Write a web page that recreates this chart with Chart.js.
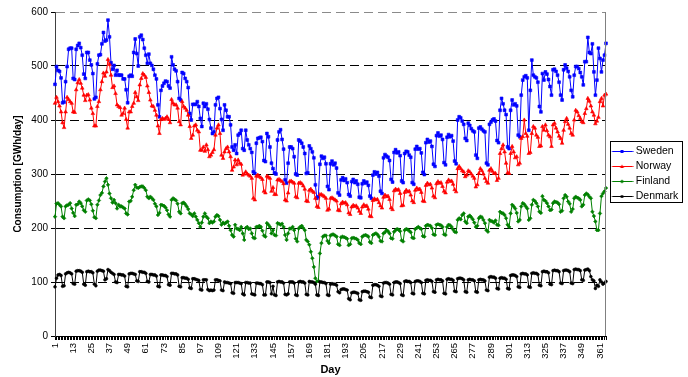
<!DOCTYPE html>
<html>
<head>
<meta charset="utf-8">
<script src="https://cdn.jsdelivr.net/npm/chart.js@4.4.0/dist/chart.umd.min.js"></script>
<style>html,body{margin:0;padding:0;background:#fff;}canvas{display:block;}</style>
</head>
<body>
<canvas id="c" width="688" height="377"></canvas>
<script>
// Daily electricity consumption, GWh/day (days 1..365)
const sweden = [
466,499,492,490,478,432,433,
471,499,531,533,533,477,475,
531,538,542,534,520,485,477,
525,525,511,502,486,439,442,
504,520,521,541,562,546,548,
585,554,506,494,501,483,492,
483,483,483,476,476,456,432,
481,483,481,525,550,523,500,
554,557,549,533,520,505,522,
505,501,494,483,476,428,406,
455,463,468,472,471,463,459,
517,502,494,491,471,440,437,
488,486,477,471,460,412,400,
429,429,429,434,425,403,388,
431,425,430,420,401,385,375,
378,428,440,442,421,401,381,
428,418,406,406,391,350,344,
354,338,372,375,381,347,344,
381,363,354,347,340,304,301,
357,366,367,368,360,325,323,
375,369,350,320,310,302,300,
363,378,382,364,346,289,283,
320,350,350,347,332,300,298,
363,361,357,350,338,301,302,
352,347,341,330,280,255,258,
318,333,329,331,319,277,271,
319,324,317,320,311,265,261,
289,293,288,291,284,262,259,
286,290,284,287,281,257,256,
282,287,283,285,279,259,255,
298,304,300,303,296,268,264,
330,336,333,331,325,290,285,
340,345,339,341,334,287,284,
338,342,341,335,331,284,281,
346,351,346,347,339,303,299,
358,364,359,361,351,318,314,
371,376,370,372,364,321,317,
368,373,369,371,361,324,319,
400,406,404,398,392,366,362,
394,390,384,380,378,335,329,
385,387,383,380,378,320,317,
392,396,400,402,398,362,358,
418,440,430,418,410,350,347,
418,437,428,430,426,372,369,
446,474,480,482,478,381,455,
511,483,480,478,470,425,415,
486,474,489,485,475,462,446,
493,494,490,483,470,446,437,
493,502,496,490,480,455,443,
483,499,499,495,488,480,465,
508,508,553,525,523,541,489,
446,474,533,514,489,511,520,
542];

const norway = [
431,442,434,426,415,395,386,
415,442,438,434,431,415,414,
456,469,475,468,459,446,436,
446,447,437,422,412,389,389,
425,434,456,471,487,481,489,
512,503,483,460,463,449,428,
425,423,409,412,422,401,385,
415,415,425,431,451,443,436,
465,477,486,483,479,463,451,
437,426,425,418,409,389,375,
401,403,401,403,406,401,395,
438,431,428,428,422,397,391,
434,425,422,418,409,388,366,
372,389,391,381,378,344,344,
350,342,354,345,332,335,340,
345,372,385,391,375,335,329,
341,347,350,341,332,307,313,
326,317,326,320,318,298,300,
304,300,298,296,292,255,252,
296,298,295,293,290,268,265,
296,294,292,268,275,262,262,
289,290,288,286,282,252,250,
265,286,287,285,283,258,256,
283,284,282,278,272,250,249,
270,272,268,266,255,240,238,
262,262,260,258,255,233,235,
255,256,254,252,250,233,232,
245,248,246,247,243,228,225,
239,242,240,241,237,231,227,
239,243,240,241,235,222,221,
251,254,252,253,247,241,237,
257,261,258,259,253,237,234,
269,272,270,271,264,241,242,
266,270,267,268,261,250,247,
270,274,271,272,266,250,249,
279,283,280,281,274,259,256,
282,286,283,284,277,268,265,
285,289,286,287,281,271,267,
310,314,310,306,304,295,298,
306,304,300,296,292,276,280,
301,310,306,300,292,286,283,
307,310,305,301,301,288,292,
338,347,354,341,320,302,301,
338,351,341,330,332,317,320,
366,369,400,375,370,338,340,
375,388,385,372,368,351,352,
388,381,391,380,372,369,351,
391,394,385,378,370,366,357,
381,397,403,392,385,375,372,
400,418,415,408,403,397,395,
412,421,440,435,426,415,409,
393,398,405,434,440,426,446,
448];

const finland = [
221,245,246,243,240,221,218,
240,242,243,246,236,228,222,
243,244,249,246,240,233,230,
251,253,251,244,232,220,218,
243,251,261,265,277,286,292,
280,264,255,247,252,246,236,
243,240,240,238,236,227,225,
249,250,258,270,280,275,274,
276,277,277,274,270,258,255,
258,255,252,245,240,224,228,
243,242,241,238,233,225,221,
252,255,253,251,245,230,227,
246,247,244,240,235,227,225,
222,227,221,215,209,202,210,
221,227,221,218,209,212,210,
212,221,224,222,215,206,210,
208,210,212,204,196,187,184,
206,199,198,196,202,190,178,
200,202,198,199,190,182,181,
202,202,204,202,195,186,184,
209,206,202,190,196,187,186,
209,208,206,208,202,187,178,
190,199,199,202,196,180,175,
199,202,204,200,196,178,175,
169,156,144,128,107,101,102,
153,172,184,186,186,176,172,
186,188,188,186,184,170,168,
183,184,183,182,180,168,170,
181,182,181,180,178,172,170,
184,186,187,186,184,174,172,
187,189,190,188,184,176,175,
190,192,196,194,190,181,180,
193,196,198,197,194,177,175,
196,198,197,195,192,182,181,
198,200,202,200,198,185,184,
204,206,205,204,200,188,187,
206,207,206,205,202,188,187,
202,206,205,202,197,193,192,
215,218,216,224,227,212,209,
221,223,220,216,210,202,204,
218,221,220,215,209,196,193,
215,213,212,210,214,206,205,
230,228,227,224,218,206,202,
227,243,240,236,228,212,215,
240,246,244,240,236,215,218,
243,252,250,246,240,230,228,
259,252,250,246,240,233,234,
246,249,248,247,244,230,232,
255,261,258,249,245,230,235,
255,258,256,255,252,240,243,
261,264,262,258,255,230,222,
212,196,196,227,259,264,268,
274];

const denmark = [
91,107,113,114,112,92,93,
115,117,118,117,115,97,96,
120,121,121,120,118,96,94,
119,120,119,119,117,96,93,
120,122,122,121,120,104,106,
123,121,118,116,114,100,99,
114,114,113,113,111,92,91,
115,116,116,115,114,102,101,
119,119,118,118,116,101,100,
114,114,113,113,111,92,91,
113,113,112,112,110,95,94,
116,116,115,115,113,92,91,
108,108,107,107,105,89,88,
106,106,105,104,103,86,85,
104,104,104,86,84,85,84,
85,104,104,103,102,85,84,
100,99,99,98,97,80,79,
99,99,99,98,97,78,76,
99,99,98,98,78,77,76,
98,98,97,97,95,76,76,
100,100,99,78,92,76,75,
100,101,100,100,98,77,76,
78,100,100,100,98,76,75,
100,101,100,100,98,77,76,
101,100,100,99,96,76,75,
100,100,99,99,97,76,75,
96,97,96,96,94,82,80,
86,87,87,86,85,69,67,
80,81,81,80,79,67,66,
82,83,83,82,81,72,71,
94,95,95,94,92,74,73,
98,99,99,98,96,77,76,
99,100,100,99,97,76,75,
101,102,101,101,99,79,78,
101,102,102,101,99,79,78,
103,104,103,103,101,82,81,
104,105,104,104,102,79,78,
105,106,105,105,103,83,82,
106,107,107,106,104,82,81,
104,105,104,104,102,82,81,
104,105,104,104,102,85,84,
109,110,109,109,107,88,87,
107,108,107,107,105,88,87,
112,113,113,112,110,91,90,
115,116,115,115,113,91,90,
116,117,116,116,114,94,93,
119,120,119,119,117,96,95,
121,122,121,121,119,98,97,
121,122,122,121,119,98,97,
123,124,123,123,121,104,103,
122,123,124,121,110,104,102,
88,94,92,104,100,96,98,
101];

const seriesNames = ['Sweden', 'Norway', 'Finland', 'Denmark'];
const seriesColors = ['#0000ff', '#ff0000', '#008000', '#000000'];
const seriesMarkers = ['rect', 'triangle', 'rectRot', 'circle'];
const yTickValues = [0, 100, 200, 300, 400, 500, 600];
const labelEvery = 12;

// category labels: day numbers
const days = sweden.map((_, i) => String(i + 1));

const FONT = "'Liberation Sans', Arial, sans-serif";

function legendIcon(color, marker) {
  const c = document.createElement('canvas');
  c.width = 26; c.height = 9;
  const g = c.getContext('2d');
  g.strokeStyle = color; g.fillStyle = color; g.lineWidth = 1;
  g.beginPath(); g.moveTo(4.5, 4.5); g.lineTo(25.5, 4.5); g.stroke();
  const cx = 14.5, cy = 4.5;
  g.beginPath();
  if (marker === 'rect') { g.rect(cx - 1.5, cy - 1.5, 3, 3); }
  else if (marker === 'triangle') { g.moveTo(cx, cy - 2); g.lineTo(cx + 2, cy + 1.5); g.lineTo(cx - 2, cy + 1.5); g.closePath(); }
  else if (marker === 'rectRot') { g.moveTo(cx, cy - 2); g.lineTo(cx + 2, cy); g.lineTo(cx, cy + 2); g.lineTo(cx - 2, cy); g.closePath(); }
  else { g.arc(cx, cy, 1.6, 0, Math.PI * 2); }
  g.fill();
  return c;
}
const icons = seriesColors.map((c, i) => legendIcon(c, seriesMarkers[i]));

const seriesData = [sweden, norway, finland, denmark];
const radii = [2, 2.1, 1.8, 1.4];
const datasets = seriesData.map((d, i) => ({
  label: seriesNames[i],
  data: d,
  borderColor: seriesColors[i],
  backgroundColor: seriesColors[i],
  pointBackgroundColor: seriesColors[i],
  pointBorderColor: seriesColors[i],
  pointStyle: seriesMarkers[i],
  pointRadius: radii[i],
  pointBorderWidth: 0.6,
  borderWidth: 1,
  tension: 0,
  fill: false,
  order: 4 - i
}));

const framePlugin = {
  id: 'frame',
  afterDraw(chart) {
    const {ctx, chartArea: a, legend} = chart;
    ctx.save();
    ctx.strokeStyle = '#808080';
    ctx.lineWidth = 1;
    ctx.beginPath();
    const xr = Math.round(a.right) - 0.5;
    ctx.moveTo(xr, Math.round(a.top)); ctx.lineTo(xr, Math.round(a.bottom));
    ctx.stroke();
    const hb = legend.legendHitBoxes;
    if (hb && hb.length) {
      const top = Math.round(hb[0].top - 5) + 0.5;
      const bottom = Math.round(hb[hb.length - 1].top + hb[hb.length - 1].height + 0.5) + 0.5;
      const left = Math.round(legend.left + 3.7) + 0.5;
      const right = Math.round(legend.right - 6) + 0.5;
      ctx.strokeStyle = '#000';
      ctx.strokeRect(left, top, right - left, bottom - top);
    }
    ctx.restore();
  }
};

new Chart(document.getElementById('c').getContext('2d'), {
  type: 'line',
  data: { labels: days, datasets },
  options: {
    responsive: false,
    animation: false,
    devicePixelRatio: 1,
    layout: { padding: { top: 12, left: 0, right: 0, bottom: 0 } },
    plugins: {
      tooltip: { enabled: false },
      legend: {
        position: 'right',
        fullSize: false,
        maxWidth: 82,
        labels: {
          usePointStyle: true,
          pointStyleWidth: 20,
          padding: 4.5,
          color: '#000',
          font: { family: FONT, size: 10.5 },
          generateLabels(chart) {
            const items = Chart.defaults.plugins.legend.labels.generateLabels(chart);
            items.sort((a, b) => a.datasetIndex - b.datasetIndex);
            items.forEach(it => { it.pointStyle = icons[it.datasetIndex]; it.fontColor = '#000'; });
            return items;
          }
        }
      }
    },
    scales: {
      x: {
        type: 'category',
        offset: false,
        grid: { display: true, drawOnChartArea: false, drawTicks: true, tickLength: 4, tickColor: '#000', color: '#000' },
        border: { display: true, color: '#000', width: 1 },
        ticks: {
          autoSkip: false, maxRotation: 90, minRotation: 90, padding: 3,
          color: '#000', font: { family: FONT, size: 9.5 },
          callback: (v, i) => (i % labelEvery === 0 ? days[i] : '')
        },
        title: { display: true, text: 'Day', color: '#000', font: { family: FONT, size: 11, weight: 'bold' }, padding: { top: 0, bottom: 0 } },
        afterFit(s) { s.height = 41; }
      },
      y: {
        min: 0, max: 600,
        afterBuildTicks(s) { s.ticks = yTickValues.map(v => ({ value: v })); },
        ticks: { padding: 3, color: '#000', font: { family: FONT, size: 10 } },
        grid: {
          color: c => (c.tick && c.tick.value === 600 ? '#8a8a8a' : '#000'),
          lineWidth: 1, drawTicks: true, tickLength: 4, tickColor: '#000'
        },
        border: { display: true, color: '#404040', width: 1, dash: [9, 5] },
        title: { display: true, text: 'Consumption [GWh/day]', color: '#000', font: { family: FONT, size: 10, weight: 'bold' }, padding: { top: 12, bottom: 0 } },
        afterFit(s) { s.width = 55; }
      }
    }
  },
  plugins: [framePlugin]
});
</script>
</body>
</html>
